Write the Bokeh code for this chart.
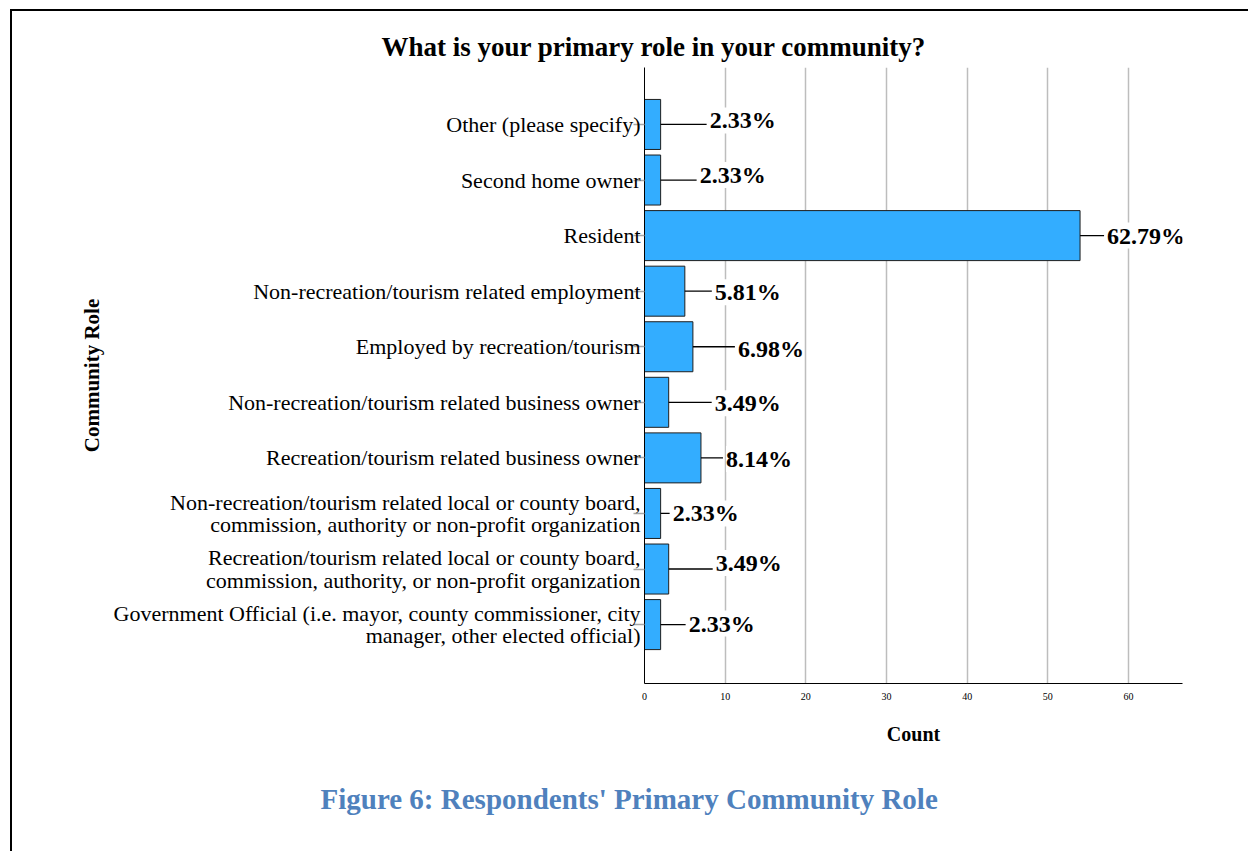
from bokeh.plotting import figure
from bokeh.models import Range1d, FixedTicker, Title, Div
from bokeh.layouts import column
from bokeh.core.properties import value
from bokeh.embed import file_html
from bokeh.resources import INLINE

# ---- data (top to bottom as shown) ----
roles = [
    "Other (please specify)",
    "Second home owner",
    "Resident",
    "Non-recreation/tourism related employment",
    "Employed by recreation/tourism",
    "Non-recreation/tourism related business owner",
    "Recreation/tourism related business owner",
    "Non-recreation/tourism related local or county board,\ncommission, authority or non-profit organization",
    "Recreation/tourism related local or county board,\ncommission, authority, or non-profit organization",
    "Government Official (i.e. mayor, county commissioner, city\nmanager, other elected official)",
]
counts = [2, 2, 54, 5, 6, 3, 7, 2, 3, 2]
pct_labels = ["2.33%", "2.33%", "62.79%", "5.81%", "6.98%", "3.49%", "8.14%", "2.33%", "3.49%", "2.33%"]
x_ticks = [0, 10, 20, 30, 40, 50, 60]
grid_ticks = [10, 20, 30, 40, 50, 60]

# ---- callout layout (pixels) ----
label_gap = [49, 39, 27, 30, 45, 46, 25, 12, 47, 28]
label_dy = [-4, -5, 0, 1, 2, 1, 1, 0, -6, -1]

FONT = "Liberation Serif"
W, H = 1248, 851
FL, FR, FT, FB = 644, 1182, 67, 683
X_MAX = 66.7

n = len(roles)
ypos = [n - 1 - i for i in range(n)]
px_per_unit = (FR - FL) / X_MAX

p = figure(width=W, height=H, x_range=Range1d(0, X_MAX), y_range=Range1d(-1.06, 10.025),
           output_backend="svg", toolbar_location=None,
           min_border_left=FL, min_border_right=W - FR, min_border_top=FT, min_border_bottom=H - FB)
p.outline_line_color = None
p.background_fill_color = "white"
p.border_fill_color = "white"

# grid
p.ygrid.visible = False
p.xgrid.ticker = FixedTicker(ticks=grid_ticks)
p.xgrid.grid_line_color = "#bdbdbd"
p.xgrid.grid_line_width = 1.5

# bars
p.hbar(y=ypos, left=0, right=counts, height=0.9, fill_color="#33ADFF",
       line_color="#1e1e1e", line_width=1)

# leader lines
x_end = [c + (g - 3) / px_per_unit for c, g in zip(counts, label_gap)]
p.segment(x0=counts, y0=ypos, x1=x_end, y1=ypos, line_color="black", line_width=1.3)

# value labels
p.text(x=counts, y=ypos, text=pct_labels, x_offset=label_gap, y_offset=label_dy,
       text_font=value(FONT), text_font_style="bold", text_font_size="24px",
       text_align="left", text_baseline="middle", text_color="black",
       background_fill_color="white")

# x axis
xa = p.xaxis[0]
xa.ticker = FixedTicker(ticks=x_ticks)
xa.axis_line_color = "black"
xa.axis_line_width = 1
xa.major_tick_out = 0
xa.major_tick_in = 0
xa.minor_tick_out = 0
xa.minor_tick_in = 0
xa.major_label_text_font = FONT
xa.major_label_text_font_size = "10px"
xa.major_label_text_color = "black"
xa.major_label_standoff = 9
xa.axis_label = "Count"
xa.axis_label_text_font = FONT
xa.axis_label_text_font_style = "bold"
xa.axis_label_text_font_size = "20px"
xa.axis_label_text_color = "black"
xa.axis_label_standoff = 20

# y axis
ya = p.yaxis[0]
ya.ticker = FixedTicker(ticks=ypos)
ya.major_label_overrides = {y: r for y, r in zip(ypos, roles)}
ya.axis_line_color = "black"
ya.axis_line_width = 1
ya.major_tick_out = 11
ya.major_tick_in = 0
ya.major_tick_line_color = "#a6a6a6"
ya.major_tick_line_width = 1.5
ya.minor_tick_out = 0
ya.minor_tick_in = 0
ya.major_label_text_font = FONT
ya.major_label_text_font_size = "22px"
ya.major_label_text_color = "black"
ya.major_label_text_line_height = 0.9
ya.major_label_standoff = -7
ya.axis_label = "Community Role"
ya.axis_label_text_font = FONT
ya.axis_label_text_font_style = "bold"
ya.axis_label_text_font_size = "21px"
ya.axis_label_text_color = "black"
ya.axis_label_standoff = 7

# title (left-anchored with offset so it sits where the original does)
p.title.text = "What is your primary role in your community?"
p.title.align = "left"
p.title.offset = -263
p.title.text_font = FONT
p.title.text_font_style = "bold"
p.title.text_font_size = "27px"
p.title.text_color = "black"
p.title.vertical_align = "bottom"
p.title.standoff = 12

# caption below the chart
caption = Title(text="Figure 6: Respondents' Primary Community Role",
                align="left", offset=-324, text_font=FONT, text_font_style="bold",
                text_font_size="29px", text_color="#4F81BD", standoff=66)
p.add_layout(caption, "below")

# page border (top and left edges of the document page)
border = Div(text='<div style="position:fixed;left:10px;top:9px;width:3000px;height:3000px;'
                  'border-left:2px solid #000;border-top:2px solid #000;'
                  'pointer-events:none;"></div>', width=1, height=1)

layout = column(p, border)
open("out.html", "w").write(file_html(layout, INLINE))
